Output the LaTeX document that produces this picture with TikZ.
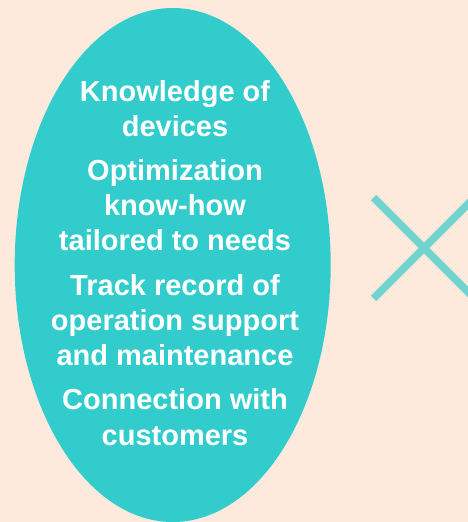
\documentclass[tikz,border=0pt]{standalone}
\usepackage{fontspec}
\setmainfont{Liberation Sans}
\definecolor{bgpeach}{HTML}{FDEADC}
\definecolor{ovalteal}{HTML}{33CCCC}
\definecolor{crossteal}{HTML}{70D4CE}
\begin{document}
\begin{tikzpicture}[x=1pt,y=-1pt,
  lbl/.style={anchor=base,inner sep=0pt,text=white,font=\bfseries\fontsize{29}{35}\selectfont},
  crossline/.style={draw=crossteal,line width=7.5pt,line cap=butt}]
\useasboundingbox (0,0) rectangle (468,522);
\clip (0,0) rectangle (468,522);
\fill[bgpeach] (0,0) rectangle (468,522);
\fill[ovalteal] (172.7,265) ellipse [x radius=158, y radius=257];
\node[lbl] (l1) at (175,101) {Knowledge of};
\node[lbl] (l2) at (175,136) {devices};
\node[lbl] (l3) at (175,180) {Optimization};
\node[lbl] (l4) at (175,215) {know-how};
\node[lbl] (l5) at (175,250) {tailored to needs};
\node[lbl] (l6) at (175,295) {Track record of};
\node[lbl] (l7) at (175,330) {operation support};
\node[lbl] (l8) at (175,365) {and maintenance};
\node[lbl] (l9) at (175,409) {Connection with};
\node[lbl] (l10) at (175,445) {customers};
\coordinate (xa) at (373.5,197.5);
\coordinate (xb) at (474.5,298.5);
\coordinate (xc) at (373.5,298.5);
\coordinate (xd) at (474.5,197.5);
\draw[crossline] (xa) -- (xb);
\draw[crossline] (xc) -- (xd);
\end{tikzpicture}
\end{document}
